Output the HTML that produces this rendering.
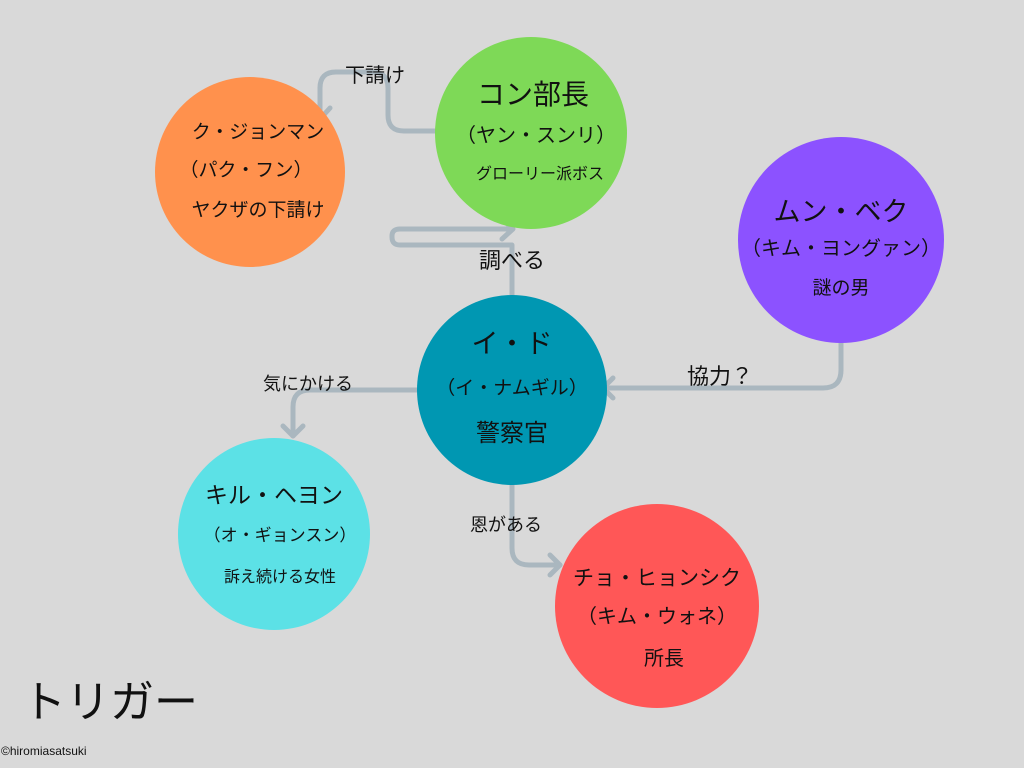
<!DOCTYPE html>
<html><head><meta charset="utf-8"><style>
body{margin:0;background:#d9d9d9;}
svg{display:block;}
text{font-family:"Liberation Sans","Noto Sans CJK JP",sans-serif;fill:#111;text-anchor:middle;}
</style></head><body>
<svg width="1024" height="768" viewBox="0 0 1024 768">
<rect width="1024" height="768" fill="#d9d9d9"/>
<g fill="none" stroke="#aab7bf" stroke-width="5" stroke-linecap="round" stroke-linejoin="round">
<path d="M436 131 H404 Q388 131 388 115 V88 Q388 72 372 72 H336 Q320 72 320 88 V118"/>
<path d="M310 108 L320 119 L330 108"/>
<path d="M512 295 V245 H400 Q392 245 392 237 V236 Q392 229 400 229 H512"/>
<path d="M502 219 L513 229 L502 239"/>
<path d="M841 343 V370 Q841 388 823 388 H603"/>
<path d="M613 378 L603 388 L613 398"/>
<path d="M417 390 H310 Q293 390 293 407 V436"/>
<path d="M283 426 L293 436 L303 426"/>
<path d="M512 485 V548 Q512 565 529 565 H560"/>
<path d="M550 555 L560 565 L550 575"/>
</g>
<circle cx="250" cy="172" r="95" fill="#ff914d"/>
<circle cx="531" cy="133" r="96" fill="#7ed957"/>
<circle cx="841" cy="240" r="103" fill="#8c52ff"/>
<circle cx="512" cy="390" r="95" fill="#0097b2"/>
<circle cx="274" cy="534" r="96" fill="#5ce1e6"/>
<circle cx="657" cy="606" r="102" fill="#ff5757"/>
<text x="375" y="82" font-size="20">下請け</text>
<text x="512" y="268" font-size="22">調べる</text>
<text x="720" y="384" font-size="22">協力？</text>
<text x="308" y="390" font-size="18">気にかける</text>
<text x="506" y="531" font-size="18">恩がある</text>
<text x="258" y="138" font-size="19">ク・ジョンマン</text>
<text x="246" y="176" font-size="19">（パク・フン）</text>
<text x="258" y="216" font-size="19">ヤクザの下請け</text>
<text x="533" y="104" font-size="28">コン部長</text>
<text x="536" y="142" font-size="20">（ヤン・スンリ）</text>
<text x="540" y="179" font-size="16">グローリー派ボス</text>
<text x="841" y="221" font-size="27">ムン・ベク</text>
<text x="841" y="255" font-size="20">（キム・ヨングァン）</text>
<text x="841" y="294" font-size="19">謎の男</text>
<text x="512" y="353" font-size="27">イ・ド</text>
<text x="512" y="394" font-size="19">（イ・ナムギル）</text>
<text x="512" y="441" font-size="24">警察官</text>
<text x="274" y="503" font-size="23">キル・ヘヨン</text>
<text x="280" y="541" font-size="17">（オ・ギョンスン）</text>
<text x="280" y="582" font-size="16">訴え続ける女性</text>
<text x="657" y="585" font-size="21">チョ・ヒョンシク</text>
<text x="657" y="623" font-size="20">（キム・ウォネ）</text>
<text x="664" y="665" font-size="20">所長</text>
<text x="22" y="717" font-size="44" style="text-anchor:start" fill="#222">トリガー</text>
<text x="1" y="755" font-size="12" style="text-anchor:start" fill="#222">©hiromiasatsuki</text>
</svg>
</body></html>
